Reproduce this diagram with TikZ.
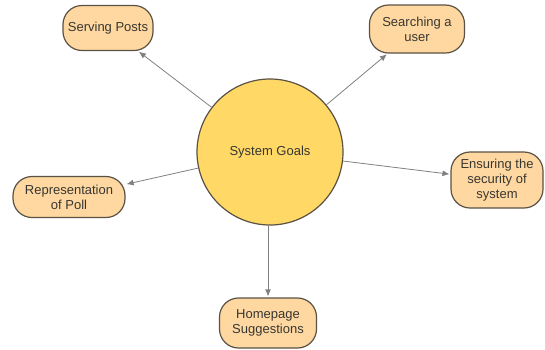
\documentclass[tikz,border=0pt]{standalone}
\usepackage{fontspec}
\setmainfont{Liberation Sans}
\usetikzlibrary{arrows.meta}
\definecolor{goalfill}{RGB}{255,216,102}
\definecolor{itemfill}{RGB}{255,215,160}
\definecolor{edgegray}{RGB}{90,82,68}
\definecolor{textgray}{RGB}{55,55,50}
\tikzset{
	goal/.style={circle, draw=edgegray, line width=1.2pt, fill=goalfill, minimum size=146pt, inner sep=0pt, text=textgray, font=\fontsize{13}{15}\selectfont},
	item/.style={rectangle, rounded corners=19pt, draw=edgegray, line width=1.2pt, fill=itemfill, align=center, inner sep=0pt, text=textgray, font=\fontsize{13}{15}\selectfont},
	link/.style={draw=gray, line width=0.8pt, -{Latex[length=7pt,width=6pt]}, shorten >=1pt}
}
\begin{document}
\begin{tikzpicture}[x=1pt, y=-1pt]
	\useasboundingbox (0,0) rectangle (545,349);
	% goal in the middle
	\node[goal] (goal) at (270,152) {System Goals};
	% the five goals around it
	\node[item, minimum width=90pt, minimum height=45pt] (posts) at (108,28) {Serving Posts};
	\node[item, minimum width=95pt, minimum height=48pt] (search) at (417,29) {Searching a\\user};
	\node[item, minimum width=92pt, minimum height=56pt] (secure) at (497,180) {Ensuring the\\security of\\system};
	\node[item, minimum width=112pt, minimum height=41pt] (poll) at (69,197) {Representation\\of Poll};
	\node[item, minimum width=97pt, minimum height=50pt] (home) at (268,323) {Homepage\\Suggestions};
	% arrows
	\draw[link] (goal) -- (posts);
	\draw[link] (goal) -- (search);
	\draw[link] (goal) -- (secure);
	\draw[link] (goal) -- (poll);
	\draw[link] (goal.south -| home) -- (home);
\end{tikzpicture}
\end{document}
